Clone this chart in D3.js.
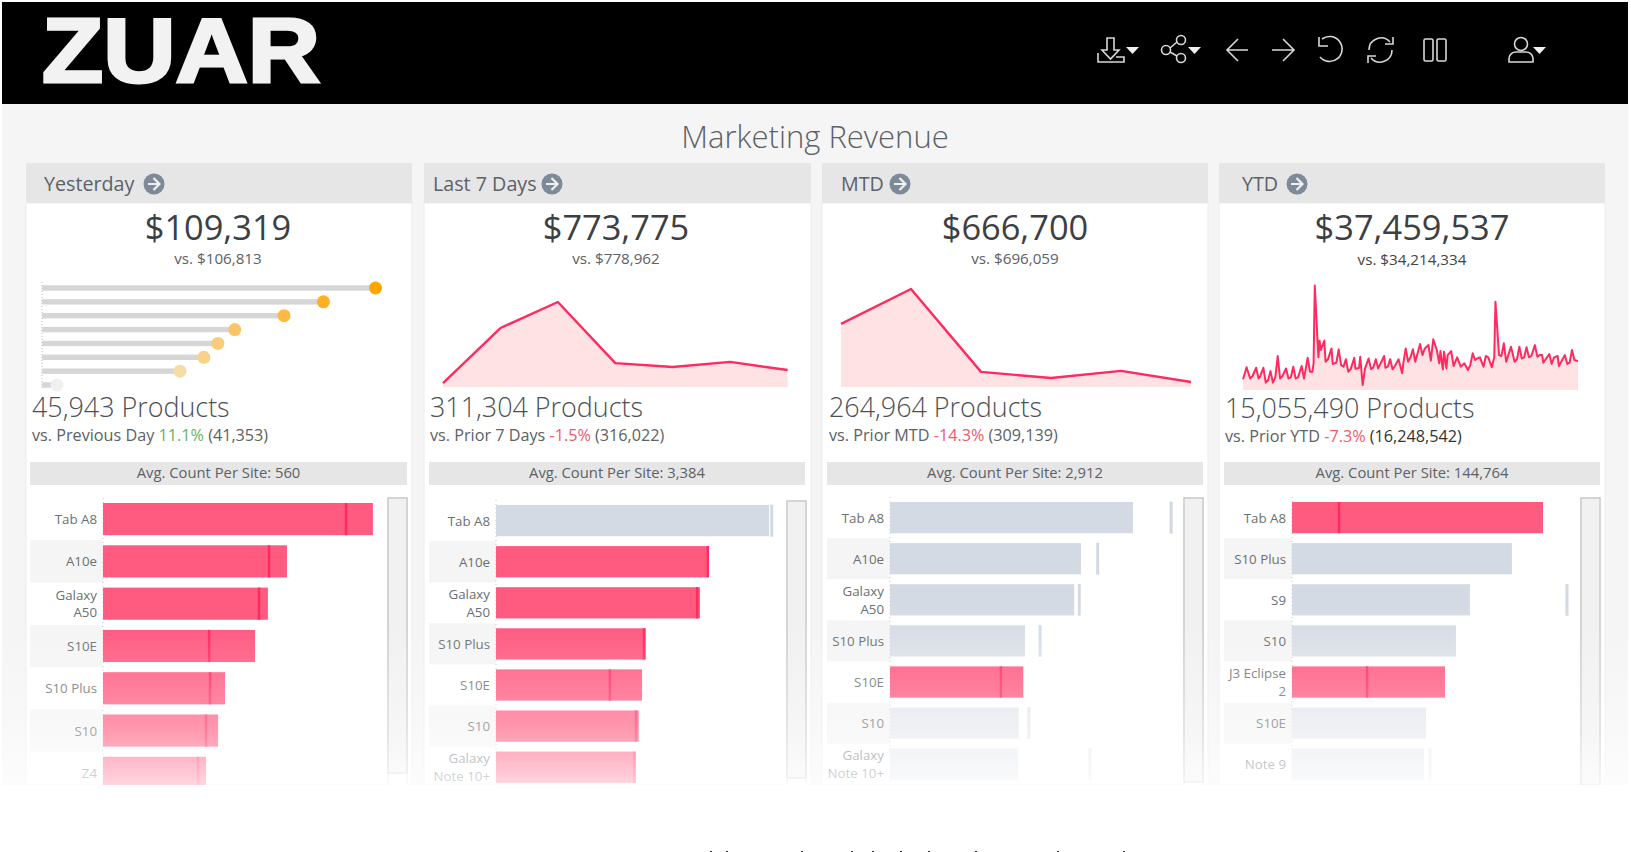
<!DOCTYPE html>
<html>
<head>
<meta charset="utf-8">
<script src="https://cdn.jsdelivr.net/npm/d3@7"></script>
<style>
  body { margin: 0; background: #fff; overflow: hidden; }
  text { font-family: "Open Sans", sans-serif; }
</style>
</head>
<body>
<div class="container"></div>
<script>
var periods = ['Yesterday', 'Last 7 Days', 'MTD', 'YTD'];
var revenue = ['$109,319', '$773,775', '$666,700', '$37,459,537'];
var priorRevenue = ['vs. $106,813', 'vs. $778,962', 'vs. $696,059', 'vs. $34,214,334'];
var products = ['45,943 Products', '311,304 Products', '264,964 Products', '15,055,490 Products'];
var priorNames = ['vs. Previous Day ', 'vs. Prior 7 Days ', 'vs. Prior MTD ', 'vs. Prior YTD '];
var changes = ['11.1%', '-1.5%', '-14.3%', '-7.3%'];
var priorProducts = [' (41,353)', ' (316,022)', ' (309,139)', ' (16,248,542)'];
var avgCounts = ['Avg. Count Per Site: 560', 'Avg. Count Per Site: 3,384', 'Avg. Count Per Site: 2,912', 'Avg. Count Per Site: 144,764'];

// yesterday lollipops, $K
var dotValues = [23.7, 20.0, 17.2, 13.7, 12.5, 11.5, 9.8, 1.07];

// last 7 days and MTD areas, $K
var weekValues = [13, 195, 281, 79, 66, 83, 56];
var mtdValues = [204, 317, 49, 29, 52, 16];

// YTD line, day of the year and $K
var ytdDays = [0,3,6,8,11,13,14,17,19,21,
  23,25,27,29,31,33,36,38,40,42,
  44,46,49,51,53,54,56,58,59,60,
  63,64,65,68,69,71,74,75,78,80,
  82,84,86,88,90,93,94,97,98,100,
  102,105,107,109,111,113,118,119,121,123,
  125,127,130,133,134,136,138,140,142,144,
  148,150,152,155,157,159,162,164,165,167,
  168,170,171,174,176,179,182,185,188,190,
  192,194,196,198,201,203,205,208,210,211,
  214,216,218,220,224,227,229,231,233,235,
  237,239,241,244,246,248,250,251,256,258,
  260,263,264,266,269,271,273,275,277,280];
var ytdValues = [48,102,52,63,100,52,57,100,33,45,
  85,33,57,153,52,63,97,52,57,105,
  52,57,108,52,112,145,82,82,120,470,
  147,222,180,222,127,138,187,117,123,183,
  112,105,138,82,94,145,96,99,150,22,
  97,142,94,102,138,97,153,100,105,138,
  93,108,138,75,120,187,127,147,183,127,
  207,157,187,202,132,228,180,120,175,93,
  172,97,157,175,108,147,105,120,90,112,
  165,135,142,147,105,153,147,102,147,397,
  157,153,210,127,195,127,138,195,142,147,
  192,147,153,202,150,157,157,123,162,117,
  147,153,108,127,157,117,123,180,135,130];

// bar rows per period
var yesterdayCats = ['Tab A8', 'A10e', 'Galaxy|A50', 'S10E', 'S10 Plus', 'S10', 'Z4'];
var yesterdayVals = [9.64, 6.57, 5.89, 5.43, 4.36, 4.11, 3.68];
var yesterdayRefs = [8.68, 5.93, 5.57, 3.79, 3.82, 3.68, 3.39];
var weekCats = ['Tab A8', 'A10e', 'Galaxy|A50', 'S10 Plus', 'S10E', 'S10', 'Galaxy|Note 10+'];
var weekVals = [58.5, 45.6, 43.7, 32.1, 31.3, 30.6, 30.0];
var weekRefs = [59.1, 45.4, 43.1, 31.7, 24.4, 30.0, 29.6];
var mtdCats = ['Tab A8', 'A10e', 'Galaxy|A50', 'S10 Plus', 'S10E', 'S10', 'Galaxy|Note 10+'];
var mtdVals = [43.4, 34.1, 32.9, 24.1, 23.8, 23.0, 22.9];
var mtdRefs = [50.2, 37.1, 33.8, 26.8, 19.8, 24.8, 35.7];
var ytdCats = ['Tab A8', 'S10 Plus', 'S9', 'S10', 'J3 Eclipse|2', 'S10E', 'Note 9'];
var ytdVals = [1793, 1571, 1271, 1171, 1093, 957, 943];
var ytdRefs = [336, null, 1964, null, 536, null, 986];

// specks of a clipped text line at the very bottom of the picture
var clippedMarks = [710, 726, 801, 851, 872, 900, 928, 975, 1057, 1123];

var cardLeft = [26, 424, 822, 1219];
var cardRight = [412, 811, 1208, 1605];
var cardMid = [218, 616, 1015, 1412];
var textLeft = [32, 430, 829, 1225];
var headLeft = [44, 433, 841, 1242];
var arrowX = [154, 552, 900, 1297];
var avgLeft = [30, 429, 827, 1224];
var avgRight = [407, 805, 1203, 1600];
var barLeft = [103, 496, 890, 1292];
var barTop = [503, 505, 502, 502];
var barStep = [42.3, 41.1, 41.1, 41.1];
var labelGap = [6, 6, 6, 6];
var scrollLeft = [388, 787, 1184, 1581];
var scrollTop = [498, 501, 498, 498];
var scrollThumb = [773, 778, 782, 785];
var domainMax = [10, 60, 50, 2000];
var textColor = '#5c6166';

var svg = d3.select('.container').append('svg')
    .attr('width', 1631)
    .attr('height', 852)
    .style('display', 'block');

var defs = svg.append('defs');
var fade = defs.append('linearGradient').attr('id', 'fade')
    .attr('x1', 0).attr('x2', 0).attr('y1', 0).attr('y2', 1);
[[0, 0], [0.4, 0.22], [0.66, 0.38], [0.91, 0.65], [1, 0.75]].forEach(function(s) {
    fade.append('stop').attr('offset', s[0]).attr('stop-color', '#fff').attr('stop-opacity', s[1]);
});
// the grey bars wash out faster than the pink ones
var greyFade = defs.append('linearGradient').attr('id', 'greyFade')
    .attr('gradientUnits', 'userSpaceOnUse')
    .attr('x1', 0).attr('x2', 0).attr('y1', 600).attr('y2', 790);
[[0, '#d4dae3'], [0.66, '#e5e8ee'], [1, '#e9ecf0']].forEach(function(s) {
    greyFade.append('stop').attr('offset', s[0]).attr('stop-color', s[1]);
});

// page background
svg.append('rect').attr('x', 2).attr('y', 104).attr('width', 1626).attr('height', 681).attr('fill', '#f5f5f5');
svg.append('rect').attr('x', 2).attr('y', 2).attr('width', 1626).attr('height', 102).attr('fill', '#000');

svg.append('text')
    .attr('x', 42).attr('y', 82)
    .attr('textLength', 278).attr('lengthAdjust', 'spacingAndGlyphs')
    .style('font-family', '"Liberation Sans", sans-serif')
    .style('font-weight', 700).style('font-size', '90px')
    .attr('fill', '#f2f2f2').attr('stroke', '#f2f2f2').attr('stroke-width', 3)
    .text('ZUAR');

var drawIcons = function() {
    var icons = svg.append('g').attr('fill', 'none').attr('stroke', '#d8d8d8').attr('stroke-width', 1.6);
    // download
    icons.append('path').attr('d', 'M1107 38h7v12h5l-8.5 9-8.5-9h5z M1098 53v9h26v-5h-8');
    // share
    icons.append('circle').attr('cx', 1166).attr('cy', 50).attr('r', 4.5);
    icons.append('circle').attr('cx', 1181).attr('cy', 40).attr('r', 4.5);
    icons.append('circle').attr('cx', 1181).attr('cy', 58).attr('r', 4.5);
    icons.append('path').attr('d', 'M1170 48l7-6 M1170 52l7 4');
    // back and forward
    icons.append('path').attr('d', 'M1238 39l-11 11 11 11 M1227 50h21');
    icons.append('path').attr('d', 'M1283 39l11 11-11 11 M1272 50h21');
    // undo
    icons.append('path').attr('d', 'M1322 39a12.5 12.5 0 1 1 -2 18 M1319 37v9h9');
    // refresh
    icons.append('path').attr('d', 'M1369 50a12 12 0 0 1 21-8 M1392 50a12 12 0 0 1-21 8 M1393 37v7h-8 M1368 63v-7h8');
    // pause
    icons.append('rect').attr('x', 1424).attr('y', 39).attr('width', 9).attr('height', 22).attr('rx', 1.5);
    icons.append('rect').attr('x', 1437).attr('y', 39).attr('width', 9).attr('height', 22).attr('rx', 1.5);
    // user
    icons.append('circle').attr('cx', 1521).attr('cy', 44).attr('r', 6.5);
    icons.append('path').attr('d', 'M1509 62v-4a7 7 0 0 1 7-6h10a7 7 0 0 1 7 6v4z');
    // carets
    [[1126, 47], [1188, 47], [1533, 47]].forEach(function(c) {
        svg.append('path')
            .attr('d', 'M' + c[0] + ' ' + c[1] + 'h13l-6.5 7z')
            .attr('fill', '#f0f0f0');
    });
};
drawIcons();

svg.append('text')
    .attr('x', 815).attr('y', 148)
    .attr('text-anchor', 'middle')
    .style('font-size', '31px').style('font-weight', 300)
    .attr('fill', textColor)
    .text('Marketing Revenue');

var drawCard = function(i) {
    var w = cardRight[i] - cardLeft[i];
    var g = svg.append('g');
    g.append('rect').attr('x', cardLeft[i]).attr('y', 203).attr('width', w).attr('height', 582)
        .attr('fill', '#fff').attr('stroke', '#ececec');
    g.append('rect').attr('x', cardLeft[i]).attr('y', 163).attr('width', w).attr('height', 40).attr('fill', '#e6e6e6');
    g.append('text').attr('x', headLeft[i]).attr('y', 191)
        .style('font-size', '19.7px').attr('fill', textColor).text(periods[i]);
    g.append('circle').attr('cx', arrowX[i]).attr('cy', 184).attr('r', 10.5).attr('fill', '#7f8a98');
    g.append('path')
        .attr('d', 'M' + (arrowX[i] - 6) + ' 184h11 M' + (arrowX[i] - 0.5) + ' 178l6 6-6 6')
        .attr('fill', 'none').attr('stroke', '#eef0f2').attr('stroke-width', 2.2);

    g.append('text').attr('x', cardMid[i]).attr('y', 240)
        .attr('text-anchor', 'middle').style('font-size', '34.4px').attr('fill', '#3c4043').text(revenue[i]);
    g.append('text').attr('x', cardMid[i]).attr('y', i == 3 ? 265 : 264)
        .attr('text-anchor', 'middle').style('font-size', '15.2px').attr('fill', i == 3 ? '#444' : textColor).text(priorRevenue[i]);

    g.append('text').attr('x', textLeft[i]).attr('y', i == 3 ? 418 : 417)
        .style('font-size', '26.9px').style('font-weight', 300).attr('fill', '#4c5055').text(products[i]);
    var vs = g.append('text').attr('x', textLeft[i]).attr('y', i == 3 ? 442 : 441)
        .style('font-size', '16.2px').attr('fill', textColor);
    vs.append('tspan').text(priorNames[i]);
    vs.append('tspan').attr('fill', i == 0 ? '#62b362' : '#f0596b').text(changes[i]);
    vs.append('tspan').attr('fill', i == 3 ? '#333' : textColor).text(priorProducts[i]);

    g.append('rect').attr('x', avgLeft[i]).attr('y', 462).attr('width', avgRight[i] - avgLeft[i]).attr('height', 23).attr('fill', '#e6e6e6');
    g.append('text').attr('x', (avgLeft[i] + avgRight[i]) / 2).attr('y', 478)
        .attr('text-anchor', 'middle').style('font-size', '14.8px').attr('fill', textColor).text(avgCounts[i]);

    // scroll bar
    g.append('rect').attr('x', scrollLeft[i]).attr('y', scrollTop[i]).attr('width', 19).attr('height', 290)
        .attr('fill', '#fff').attr('stroke', '#dcdcdc');
    g.append('rect').attr('x', scrollLeft[i]).attr('y', scrollTop[i]).attr('width', 19).attr('height', scrollThumb[i] - scrollTop[i])
        .attr('fill', '#f1f1f1').attr('stroke', '#b9b9b9');
};

var drawDots = function() {
    var x = d3.scaleLinear().domain([0, d3.max(dotValues)]).range([42, 375.5]);
    var y = d3.scalePoint().domain(d3.range(dotValues.length)).range([288, 385]);
    var color = d3.scaleLinear()
        .domain([1.07, 9.8, 13.7, 23.7])
        .range(['#f0f0f0', '#f6dca6', '#fbc566', '#ffa500']);
    svg.append('line').attr('x1', 42).attr('x2', 42).attr('y1', 282).attr('y2', 390)
        .attr('stroke', '#bbb').attr('stroke-dasharray', '1,2');
    svg.selectAll('.stem').data(dotValues).enter().append('rect')
        .attr('class', 'stem')
        .attr('x', 42).attr('y', function(d, i) { return y(i) - 2.7; })
        .attr('width', function(d) { return x(d) - 42; }).attr('height', 5.4)
        .attr('fill', '#d6d6d6');
    svg.selectAll('.dot').data(dotValues).enter().append('circle')
        .attr('class', 'dot')
        .attr('cx', function(d) { return x(d); }).attr('cy', function(d, i) { return y(i); })
        .attr('r', 6.5)
        .attr('fill', function(d) { return color(d); });
};

var drawArea = function(days, values, xRange, yDomain, yRange, lineWidth) {
    var x = d3.scaleLinear().domain(d3.extent(days)).range(xRange);
    var y = d3.scaleLinear().domain(yDomain).range(yRange);
    var area = d3.area()
        .x(function(d, i) { return x(days[i]); })
        .y0(yRange[0])
        .y1(function(d) { return y(d); });
    var line = d3.line()
        .x(function(d, i) { return x(days[i]); })
        .y(function(d) { return y(d); });
    svg.append('path').attr('d', area(values)).attr('fill', '#ffe3e4');
    svg.append('path').attr('d', line(values)).attr('fill', 'none')
        .attr('stroke', '#ff2a5f').attr('stroke-width', lineWidth).attr('stroke-linejoin', 'round');
};

var drawBars = function(i, cats, vals, refs) {
    var step = barStep[i];
    var x = d3.scaleLinear().domain([0, domainMax[i]]).range([barLeft[i], barLeft[i] + 280]);
    var y = d3.scaleBand().domain(cats)
        .range([barTop[i] - step * 0.12, barTop[i] - step * 0.12 + step * cats.length])
        .paddingInner(0.24).paddingOuter(0.12);
    var g = svg.append('g');
    var hot = function(k) { return refs[k] != null && refs[k] < vals[k]; };

    g.selectAll('.band').data(cats).enter().filter(function(d, k) { return k % 2 == 1; }).append('rect')
        .attr('x', avgLeft[i]).attr('width', barLeft[i] - avgLeft[i])
        .attr('y', function(d) { return y(d) - step * 0.12; }).attr('height', step)
        .attr('fill', '#f5f5f5');
    g.append('line').attr('x1', barLeft[i]).attr('x2', barLeft[i]).attr('y1', barTop[i] - 5).attr('y2', 785)
        .attr('stroke', '#c4c4c4').attr('stroke-dasharray', '1,3');

    g.selectAll('.bar').data(vals).enter().append('rect')
        .attr('x', barLeft[i])
        .attr('y', function(d, k) { return y(cats[k]); })
        .attr('width', function(d) { return x(d) - barLeft[i]; })
        .attr('height', y.bandwidth())
        .attr('fill', function(d, k) { return hot(k) ? '#ff5a80' : 'url(#greyFade)'; });

    refs.forEach(function(d, k) {
        if (d == null) return;
        g.append('rect')
            .attr('x', x(d) - 1.2)
            .attr('y', y(cats[k]))
            .attr('width', 2.4)
            .attr('height', y.bandwidth())
            .attr('fill', hot(k) ? '#ff2a5f' : 'url(#greyFade)')
            .attr('stroke', hot(k) ? 'none' : '#c3cbd8')
            .attr('stroke-opacity', 1 - k * 0.12)
            .attr('stroke-width', 0.4);
    });

    cats.forEach(function(c) {
        var lines = c.split('|');
        var mid = y(c) + y.bandwidth() / 2;
        var label = g.append('text')
            .attr('text-anchor', 'end')
            .style('font-size', '13.3px').attr('fill', '#6a6f73');
        lines.forEach(function(t, k) {
            label.append('tspan')
                .attr('x', barLeft[i] - labelGap[i])
                .attr('y', mid + 5 + (k - (lines.length - 1) / 2) * 17.5)
                .text(t);
        });
    });
};

d3.range(4).forEach(drawCard);
drawDots();
drawArea(d3.range(weekValues.length), weekValues, [443, 787.6], [0, 281], [387, 302], 2.4);
drawArea(d3.range(mtdValues.length), mtdValues, [841, 1191], [0, 317], [387, 289], 2.4);
drawArea(ytdDays, ytdValues, [1243, 1578], [0, 480], [390, 283.3], 2);

drawBars(0, yesterdayCats, yesterdayVals, yesterdayRefs);
drawBars(1, weekCats, weekVals, weekRefs);
drawBars(2, mtdCats, mtdVals, mtdRefs);
drawBars(3, ytdCats, ytdVals, ytdRefs);

// bottom fade of the screenshot
svg.append('rect').attr('x', 0).attr('y', 625).attr('width', 1631).attr('height', 160).attr('fill', 'url(#fade)');
svg.append('rect').attr('x', 0).attr('y', 785).attr('width', 1631).attr('height', 67).attr('fill', '#fff');

svg.selectAll('.speck').data(clippedMarks).enter().append('rect')
    .attr('class', 'speck')
    .attr('x', function(d) { return d; }).attr('y', 851)
    .attr('width', 2).attr('height', 1)
    .attr('fill', '#333');
</script>
</body>
</html>
